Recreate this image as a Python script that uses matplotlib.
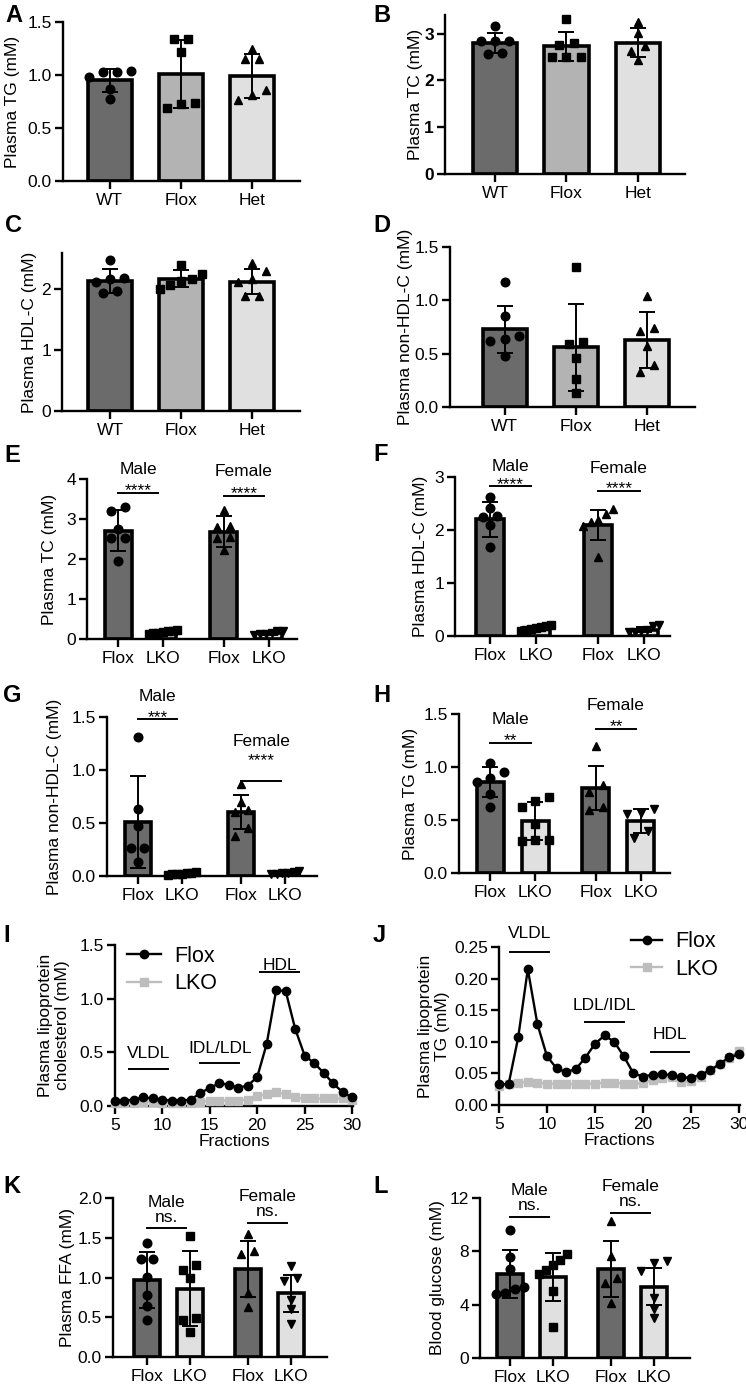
import numpy as np
import matplotlib.pyplot as plt

plt.rcParams['font.family'] = ['Liberation Sans', 'DejaVu Sans']

# ---------------- data ----------------
groups3 = ["WT", "Flox", "Het"]
groups4 = ["Flox", "LKO", "Flox", "LKO"]

# A  plasma TG (WT / Flox / Het)
tg3_pts = [[1.03, 0.98, 1.03, 1.04, 0.87, 0.77],
           [1.34, 1.34, 1.22, 0.69, 0.74, 0.73],
           [1.25, 1.15, 1.15, 0.86, 0.76, 0.81]]
tg3_mean = [0.95, 1.01, 0.99]
tg3_sd = [0.11, 0.32, 0.21]

# B  plasma TC
tc3_pts = [[2.84, 2.84, 2.84, 3.17, 2.56, 2.58],
           [3.32, 2.80, 2.76, 2.51, 2.51, 2.51],
           [3.24, 3.01, 2.73, 2.64, 2.43]]
tc3_mean = [2.80, 2.73, 2.81]
tc3_sd = [0.22, 0.31, 0.31]

# C  plasma HDL-C
hdl3_pts = [[2.49, 2.19, 2.17, 2.13, 1.94, 1.98],
            [2.41, 2.26, 2.14, 2.18, 2.01, 2.07],
            [2.43, 2.30, 2.17, 2.12, 1.89, 1.90]]
hdl3_mean = [2.14, 2.18, 2.13]
hdl3_sd = [0.20, 0.14, 0.21]

# D  plasma non-HDL-C
nonhdl3_pts = [[1.17, 0.85, 0.64, 0.62, 0.67, 0.48],
               [1.31, 0.61, 0.59, 0.46, 0.26, 0.13],
               [1.04, 0.74, 0.71, 0.57, 0.39, 0.33]]
nonhdl3_mean = [0.73, 0.56, 0.63]
nonhdl3_sd = [0.22, 0.41, 0.26]

# E  plasma TC (male Flox, male LKO, female Flox, female LKO)
tc4_pts = [[3.21, 3.29, 2.74, 2.52, 2.52, 1.96],
           [0.22, 0.21, 0.19, 0.17, 0.15, 0.14, 0.12],
           [3.22, 2.82, 2.80, 2.55, 2.52, 2.22],
           [0.20, 0.19, 0.15, 0.13, 0.12, 0.10]]
tc4_mean = [2.71, 0.17, 2.68, 0.15]
tc4_sd = [0.51, 0.04, 0.39, 0.04]

# F  plasma HDL-C
hdl4_pts = [[2.62, 2.41, 2.26, 2.25, 2.09, 1.67],
            [0.20, 0.18, 0.17, 0.15, 0.13, 0.12, 0.10],
            [2.40, 2.30, 2.19, 2.15, 2.08, 1.50],
            [0.20, 0.18, 0.12, 0.10, 0.08, 0.07]]
hdl4_mean = [2.20, 0.15, 2.10, 0.12]
hdl4_sd = [0.33, 0.04, 0.28, 0.05]

# G  plasma non-HDL-C
nonhdl4_pts = [[1.31, 0.63, 0.47, 0.26, 0.26, 0.13],
               [0.04, 0.03, 0.03, 0.02, 0.02, 0.02, 0.01],
               [0.87, 0.70, 0.62, 0.60, 0.45, 0.38],
               [0.05, 0.04, 0.03, 0.03, 0.02, 0.02]]
nonhdl4_mean = [0.51, 0.02, 0.60, 0.03]
nonhdl4_sd = [0.43, 0.01, 0.16, 0.01]

# H  plasma TG
tg4_pts = [[1.04, 0.95, 0.90, 0.86, 0.75, 0.62],
           [0.72, 0.68, 0.62, 0.46, 0.31, 0.31, 0.30],
           [1.20, 0.83, 0.76, 0.62, 0.59],
           [0.60, 0.57, 0.56, 0.40, 0.33]]
tg4_mean = [0.86, 0.49, 0.80, 0.49]
tg4_sd = [0.14, 0.18, 0.21, 0.11]

# K  plasma FFA
ffa4_pts = [[1.44, 1.23, 1.23, 1.01, 0.78, 0.64, 0.47],
            [1.52, 1.16, 1.10, 0.99, 0.49, 0.47, 0.32],
            [1.55, 1.33, 1.30, 0.80, 0.63],
            [1.15, 1.00, 0.96, 0.72, 0.60, 0.42]]
ffa4_mean = [0.97, 0.86, 1.11, 0.80]
ffa4_sd = [0.35, 0.47, 0.35, 0.23]

# L  blood glucose
glc4_pts = [[9.6, 7.6, 6.7, 5.3, 5.2, 4.8, 4.9],
            [7.8, 7.35, 7.0, 6.6, 6.3, 5.0, 2.35],
            [10.3, 7.65, 6.0, 5.6, 4.15],
            [7.3, 7.1, 6.5, 4.5, 3.7, 3.0]]
glc4_mean = [6.3, 6.05, 6.7, 5.35]
glc4_sd = [1.8, 1.8, 2.1, 1.4]

# I / J  FPLC fractions
fractions = list(range(5, 31))
chol_flox = [0.05, 0.05, 0.06, 0.08, 0.07, 0.06, 0.05, 0.05, 0.06, 0.12, 0.17, 0.21, 0.20,
             0.17, 0.19, 0.27, 0.58, 1.08, 1.07, 0.72, 0.47, 0.40, 0.31, 0.21, 0.13, 0.08]
chol_lko = [0.03, 0.03, 0.03, 0.04, 0.04, 0.03, 0.03, 0.03, 0.03, 0.04, 0.05, 0.05, 0.05,
            0.05, 0.06, 0.09, 0.11, 0.13, 0.11, 0.08, 0.07, 0.07, 0.07, 0.07, 0.07, 0.06]
tgf_flox = [0.033, 0.033, 0.107, 0.215, 0.128, 0.077, 0.058, 0.052, 0.057, 0.075, 0.097, 0.110, 0.100,
            0.077, 0.050, 0.045, 0.048, 0.049, 0.047, 0.044, 0.043, 0.048, 0.055, 0.065, 0.076, 0.080]
tgf_lko = [0.030, 0.033, 0.035, 0.037, 0.035, 0.034, 0.033, 0.033, 0.033, 0.033, 0.034, 0.035, 0.035,
           0.034, 0.033, 0.035, 0.040, 0.043, 0.044, 0.036, 0.038, 0.045, 0.055, 0.065, 0.075, 0.086]

# ---------------- figure ----------------
W, H = 746, 1384
fig = plt.figure(figsize=(W / 100, H / 100), dpi=100)

DARK, MID, LIGHT = '#6b6b6b', '#b3b3b3', '#e0e0e0'
FS = 12.5


def axes_px(left, top, right, bottom):
    return fig.add_axes([left / W, 1 - bottom / H, (right - left) / W, (bottom - top) / H])


def swarm(vals, tol, step, half):
    vals = np.asarray(vals, float)
    order = np.argsort(vals)
    offs = np.zeros(len(vals))
    clusters, cur = [], [order[0]]
    for i in order[1:]:
        if vals[i] - vals[cur[-1]] <= tol:
            cur.append(i)
        else:
            clusters.append(cur)
            cur = [i]
    clusters.append(cur)
    for c in clusters:
        k = len(c)
        if k > 1:
            s = min(step, 2 * half / (k - 1))
            offs[c] = (np.arange(k) - (k - 1) / 2) * s
    return offs


def style(ax, rect, xlim, ylim, yticks, fmt, ylabel, ylab_px, bold=False):
    ax.set_xlim(*xlim)
    ax.set_ylim(*ylim)
    for s in ['top', 'right']:
        ax.spines[s].set_visible(False)
    for s in ['left', 'bottom']:
        ax.spines[s].set_linewidth(1.7)
    ax.set_yticks(yticks)
    ax.set_yticklabels([fmt % t for t in yticks], fontweight='bold' if bold else 'normal')
    ax.tick_params(direction='out', length=6, width=1.7, labelsize=FS)
    ax.tick_params(axis='y', pad=2)
    ax.tick_params(axis='x', pad=2.5)
    ax.patch.set_alpha(0)
    ax.set_ylabel(ylabel, fontsize=FS)
    ax.yaxis.set_label_coords((ylab_px - rect[0]) / (rect[2] - rect[0]), 0.5)


def bar_panel(rect, pos, labels, means, sds, pts, fills, marks, xlim, ylim, yticks, fmt,
              ylabel, ylab_px, width, step, half, bold=False):
    ax = axes_px(*rect)
    ax.bar(pos, means, width=width, color=fills, edgecolor='black', linewidth=2.6, zorder=2)
    tol = 0.05 * ylim[1]
    for p, vals, m in zip(pos, pts, marks):
        off = swarm(vals, tol, step, half)
        ax.plot(p + off, vals, ls='none', marker=m, ms=6.2 if m in 'o^v' else 5.6,
                color='black', zorder=3, clip_on=False)
    ax.errorbar(pos, means, yerr=sds, fmt='none', ecolor='black', elinewidth=1.4,
                capsize=5.5, capthick=1.4, zorder=4)
    style(ax, rect, xlim, ylim, yticks, fmt, ylabel, ylab_px, bold)
    ax.set_xticks(pos)
    ax.set_xticklabels(labels)
    return ax


def sig(ax, x0, y, stars, label, star_dy=-2, label_dy=13.3, span=0.9):
    ax.plot([x0, x0 + span], [y, y], color='black', lw=1.4, clip_on=False)
    xc = x0 + span / 2
    ax.annotate(stars, (xc, y), xytext=(0, star_dy), textcoords='offset points',
                ha='center', va='baseline', fontsize=FS, annotation_clip=False)
    ax.annotate(label, (xc, y), xytext=(0, label_dy), textcoords='offset points',
                ha='center', va='baseline', fontsize=FS, annotation_clip=False)


def letter(x, y, s):
    fig.text(x / W, 1 - y / H, s, fontsize=17, fontweight='bold', va='baseline', ha='left')


pos3 = np.arange(3)
pos4 = np.array([0, 1, 2.35, 3.35])
fill3 = [DARK, MID, LIGHT]
mark3 = ['o', 's', '^']
mark4 = ['o', 's', '^', 'v']
fill4 = [DARK, LIGHT, DARK, LIGHT]

# A
bar_panel((63, 22, 300, 181), pos3, groups3, tg3_mean, tg3_sd, tg3_pts, fill3, mark3,
          (-0.66, 2.68), (0, 1.5), [0, 0.5, 1.0, 1.5], '%.1f', 'Plasma TG (mM)', 20, 0.62, 0.2, 0.3)
# B
bar_panel((445, 15, 685, 174), pos3, groups3, tc3_mean, tc3_sd, tc3_pts, fill3, mark3,
          (-0.70, 2.66), (0, 3.4), [0, 1, 2, 3], '%d', 'Plasma TC (mM)', 423, 0.62, 0.2, 0.3, bold=True)
# C
bar_panel((62, 253, 300, 411), pos3, groups3, hdl3_mean, hdl3_sd, hdl3_pts, fill3, mark3,
          (-0.68, 2.68), (0, 2.6), [0, 1, 2], '%d', 'Plasma HDL-C (mM)', 37, 0.62, 0.2, 0.3)
# D
bar_panel((450, 247, 695, 407), pos3, groups3, nonhdl3_mean, nonhdl3_sd, nonhdl3_pts, fill3, mark3,
          (-0.77, 2.68), (0, 1.5), [0, 0.5, 1.0, 1.5], '%.1f', 'Plasma non-HDL-C (mM)', 413, 0.62, 0.2, 0.3)

# E
ax = bar_panel((87, 479, 297, 639), pos4, groups4, tc4_mean, tc4_sd, tc4_pts, fill4, mark4,
               (-0.69, 3.98), (0, 4), [0, 1, 2, 3, 4], '%d', 'Plasma TC (mM)', 57, 0.6, 0.3, 0.32)
sig(ax, pos4[0], 3.66, '****', 'Male')
sig(ax, pos4[2], 3.58, '****', 'Female', label_dy=14.5)
# F
ax = bar_panel((455, 477, 670, 636), pos4, groups4, hdl4_mean, hdl4_sd, hdl4_pts, fill4, mark4,
               (-0.76, 3.91), (0, 3), [0, 1, 2, 3], '%d', 'Plasma HDL-C (mM)', 428, 0.6, 0.3, 0.32)
sig(ax, pos4[0], 2.83, '****', 'Male', label_dy=11)
sig(ax, pos4[2], 2.74, '****', 'Female', label_dy=13)
# G
ax = bar_panel((107, 717, 317, 876), pos4, groups4, nonhdl4_mean, nonhdl4_sd, nonhdl4_pts, fill4, mark4,
               (-0.70, 4.07), (0, 1.5), [0, 0.5, 1.0, 1.5], '%.1f', 'Plasma non-HDL-C (mM)', 62, 0.6, 0.3, 0.32)
sig(ax, pos4[0], 1.48, '***', 'Male')
sig(ax, pos4[2], 0.90, '****', 'Female', star_dy=11.2, label_dy=25)
# H
ax = bar_panel((459, 714, 670, 873), pos4, groups4, tg4_mean, tg4_sd, tg4_pts, fill4, mark4,
               (-0.69, 4.0), (0, 1.5), [0, 0.5, 1.0, 1.5], '%.1f', 'Plasma TG (mM)', 418, 0.6, 0.3, 0.32)
sig(ax, pos4[0], 1.23, '**', 'Male')
sig(ax, pos4[2], 1.36, '**', 'Female')
# K
ax = bar_panel((113, 1198, 327, 1357), pos4, groups4, ffa4_mean, ffa4_sd, ffa4_pts, fill4, mark4,
               (-0.79, 4.19), (0, 2), [0, 0.5, 1.0, 1.5, 2.0], '%.1f', 'Plasma FFA (mM)', 75, 0.6, 0.3, 0.32)
sig(ax, pos4[0], 1.62, 'ns.', 'Male', star_dy=4.7, label_dy=15.5)
sig(ax, pos4[2], 1.69, 'ns.', 'Female', star_dy=4.7, label_dy=15.5)
# L
ax = bar_panel((480, 1198, 690, 1358), pos4, groups4, glc4_mean, glc4_sd, glc4_pts, fill4, mark4,
               (-0.70, 4.19), (0, 12), [0, 4, 8, 12], '%d', 'Blood glucose (mM)', 445, 0.6, 0.3, 0.32)
sig(ax, pos4[0], 10.6, 'ns.', 'Male', star_dy=4.7, label_dy=15.5)
sig(ax, pos4[2], 10.9, 'ns.', 'Female', star_dy=4.7, label_dy=15.5)


def line_panel(rect, flox, lko, ylim, yticks, fmt, ylabel, ylab_px, leg_xy, handlelen, notes):
    ax = axes_px(*rect)
    l_lko, = ax.plot(fractions, lko, color='#bdbdbd', lw=1.7, marker='s', ms=5.2,
                     clip_on=False, zorder=3, label='LKO')
    l_flox, = ax.plot(fractions, flox, color='black', lw=1.7, marker='o', ms=6,
                      clip_on=False, zorder=4, label='Flox')
    style(ax, rect, (5, 30.1), ylim, yticks, fmt, ylabel, ylab_px)
    ax.set_xticks(range(5, 31, 5))
    ax.set_xlabel('Fractions', fontsize=FS, labelpad=1)
    ax.legend(handles=[l_flox, l_lko], loc='upper left', bbox_to_anchor=leg_xy, frameon=False,
              fontsize=15.5, handlelength=handlelen, handletextpad=0.6, labelspacing=0.3,
              borderpad=0, borderaxespad=0)
    for name, x0, x1, yl, yt in notes:
        ax.plot([x0, x1], [yl, yl], color='black', lw=1.4, clip_on=False)
        ax.text((x0 + x1) / 2, yt, name, ha='center', va='center', fontsize=FS)
    return ax


# I
line_panel((115, 945, 353, 1106), chol_flox, chol_lko, (0, 1.5), [0, 0.5, 1.0, 1.5], '%.1f',
           'Plasma lipoprotein\ncholesterol (mM)', 70, (0.05, 0.995), 1.6,
           [('VLDL', 6.5, 10.6, 0.345, 0.49), ('IDL/LDL', 14.0, 18.1, 0.40, 0.54),
            ('HDL', 20.3, 24.4, 1.25, 1.31)])
# J
line_panel((499, 947, 740, 1105), tgf_flox, tgf_lko, (0, 0.25), [0, 0.05, 0.10, 0.15, 0.20, 0.25], '%.2f',
           'Plasma lipoprotein\nTG (mM)', 450, (0.548, 1.10), 1.45,
           [('VLDL', 6.15, 10.2, 0.242, 0.272), ('LDL/IDL', 14.0, 18.0, 0.131, 0.157),
            ('HDL', 20.8, 24.8, 0.084, 0.111)])

for s, x, y in [('A', 5, 22), ('B', 373, 22), ('C', 5, 232), ('D', 373, 232),
                ('E', 4, 462), ('F', 373, 461), ('G', 3, 702), ('H', 373, 702),
                ('I', 3, 942), ('J', 373, 942), ('K', 3, 1193), ('L', 373, 1193)]:
    letter(x, y, s)

fig.savefig('out.png', dpi=100)
